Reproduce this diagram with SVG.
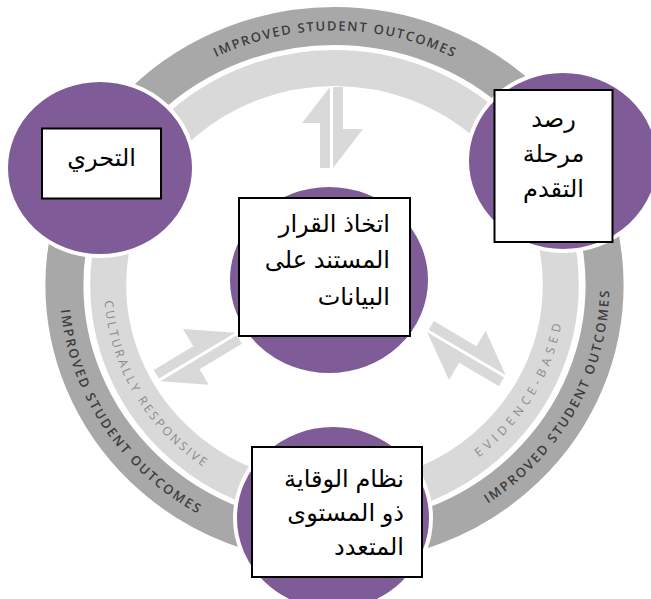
<svg xmlns="http://www.w3.org/2000/svg" width="651" height="599" viewBox="0 0 651 599">
<style>
.ring-dark{fill:none;stroke:#a8a8a8;stroke-width:38}
.ring-light{fill:none;stroke:#d9d9d9;stroke-width:36}
.arrow{fill:#d9d9d9}
.node{fill:#7f5b98;stroke:#ffffff;stroke-width:4}
.box{fill:#ffffff;stroke:#000000;stroke-width:2}
.label{font-family:"Liberation Sans","DejaVu Sans",sans-serif;font-size:24px;fill:#000000}
.rt-dark{font-family:"Open Sans","Liberation Sans",sans-serif;font-weight:600;font-size:13px;fill:#3c3c3c}
.rt-light{font-family:"Open Sans","Liberation Sans",sans-serif;font-weight:400;font-size:12px;fill:#8a8a8a}
</style>
<defs>
<path id="p-top" d="M 69.1 285 A 265.4 254.5 0 0 1 599.9 285"/>
<path id="p-left" d="M 124.0 115.6 A 274.8 263.5 0 0 0 401.0 540.7"/>
<path id="p-right" d="M 286.8 544.5 A 274.8 263.5 0 0 0 532.2 102.0"/>
<path id="p-cr" d="M 160.5 140.0 A 230.5 221 0 0 0 370.6 503.3"/>
<path id="p-eb" d="M 294.5 502.6 A 230.5 221 0 0 0 511.1 142.9"/>
<g id="arrow-shape">
<polygon points="-1.5,-81 -29.5,-45 -11.5,-45 -11.5,0 -1.5,0"/>
<polygon points="1.5,-81 11.5,-81 11.5,-39 31.5,-39 1.5,0"/>
</g>
</defs>
<rect x="0" y="0" width="651" height="599" fill="#ffffff"/>
<g id="connectors" class="arrow">
<use href="#arrow-shape" transform="translate(331.5,168)"/>
<use href="#arrow-shape" transform="translate(428,331) rotate(120.5) scale(1,1.1)"/>
<use href="#arrow-shape" transform="translate(236,334) rotate(-121) scale(1,1.1)"/>
</g>
<g id="rings">
<ellipse class="ring-dark" cx="334.5" cy="285" rx="270.1" ry="259"/>
<ellipse class="ring-light" cx="334.5" cy="285" rx="226.3" ry="217"/>
<text class="rt-dark"><textPath href="#p-top" startOffset="50%" text-anchor="middle" textLength="245" lengthAdjust="spacing">IMPROVED STUDENT OUTCOMES</textPath></text>
<text class="rt-dark"><textPath href="#p-left" startOffset="50%" text-anchor="middle" textLength="255" lengthAdjust="spacing">IMPROVED STUDENT OUTCOMES</textPath></text>
<text class="rt-dark"><textPath href="#p-right" startOffset="50%" text-anchor="middle" textLength="255" lengthAdjust="spacing">IMPROVED STUDENT OUTCOMES</textPath></text>
<text class="rt-light"><textPath href="#p-cr" startOffset="50%" text-anchor="middle" textLength="200" lengthAdjust="spacing">CULTURALLY RESPONSIVE</textPath></text>
<text class="rt-light"><textPath href="#p-eb" startOffset="50%" text-anchor="middle" textLength="160" lengthAdjust="spacing">EVIDENCE-BASED</textPath></text>
</g>
<g id="node-inquiry">
<ellipse class="node" cx="100" cy="168" rx="94" ry="88"/>
<rect class="box" x="42" y="128.5" width="119" height="70"/>
<text class="label" x="101.5" y="166" text-anchor="middle">التحري</text>
</g>
<g id="node-progress">
<ellipse class="node" cx="563" cy="161" rx="96" ry="90"/>
<rect class="box" x="494.5" y="90" width="118" height="152"/>
<text class="label" text-anchor="middle"><tspan x="553.5" y="127">رصد</tspan><tspan x="553.5" y="162">مرحلة</tspan><tspan x="553.5" y="197">التقدم</tspan></text>
</g>
<g id="node-data">
<ellipse class="node" cx="329" cy="280" rx="101" ry="95"/>
<rect class="box" x="239" y="198" width="171" height="138"/>
<text class="label" text-anchor="end"><tspan x="390" y="232">اتخاذ القرار</tspan><tspan x="390" y="268">المستند على</tspan><tspan x="390" y="305">البيانات</tspan></text>
</g>
<g id="node-mtss">
<ellipse class="node" cx="333" cy="518" rx="98" ry="93"/>
<rect class="box" x="252" y="447" width="170" height="130"/>
<text class="label" text-anchor="end"><tspan x="404" y="487">نظام الوقاية</tspan><tspan x="404" y="521">ذو المستوى</tspan><tspan x="404" y="555">المتعدد</tspan></text>
</g>
</svg>
